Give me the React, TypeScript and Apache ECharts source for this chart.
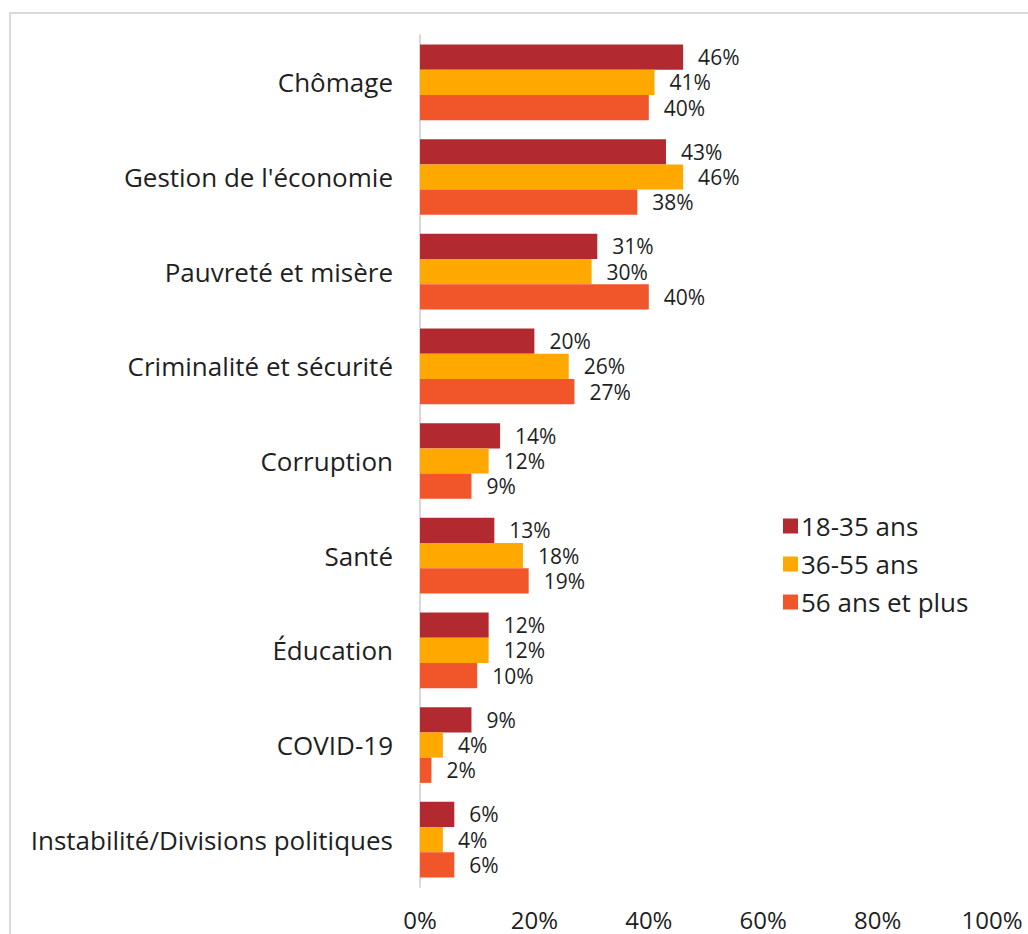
import React, { useEffect, useRef } from "react";
import * as echarts from "echarts";

const categories = [
  "Chômage",
  "Gestion de l'économie",
  "Pauvreté et misère",
  "Criminalité et sécurité",
  "Corruption",
  "Santé",
  "Éducation",
  "COVID-19",
  "Instabilité/Divisions politiques",
];
const seriesNames = ["18-35 ans", "36-55 ans", "56 ans et plus"];
const young = [46, 43, 31, 20, 14, 13, 12, 9, 6];
const middle = [41, 46, 30, 26, 12, 18, 12, 4, 4];
const older = [40, 38, 40, 27, 9, 19, 10, 2, 6];
const colors = ["#B22A2F", "#FFA800", "#F1562B"];
const xTicks = [0, 20, 40, 60, 80, 100];

const FONT = "'Open Sans', sans-serif";
const TXT = "#1f1f1f";

export default function App() {
  const ref = useRef<HTMLDivElement>(null);
  useEffect(() => {
    if (!ref.current) return;
    const chart = echarts.init(ref.current, null, { renderer: "svg" });
    const data = [young, middle, older];
    chart.setOption({
      animation: false,
      textStyle: { fontFamily: FONT },
      graphic: [
        {
          type: "rect",
          shape: { x: 10, y: 13, width: 1100, height: 1000 },
          style: { fill: "none", stroke: "#d9d9d9", lineWidth: 2 },
          silent: true,
        },
      ],
      grid: { left: 420, right: 36, top: 35, bottom: 47, containLabel: false },
      legend: {
        orient: "vertical",
        left: 778,
        top: 508,
        itemWidth: 15,
        itemHeight: 15,
        itemGap: 12,
        icon: "rect",
        data: seriesNames,
        textStyle: { fontSize: 26, lineHeight: 25, color: TXT, fontFamily: FONT, padding: [0, 0, 0, -2] },
      },
      xAxis: {
        type: "value",
        min: xTicks[0],
        max: xTicks[xTicks.length - 1],
        interval: 20,
        axisLine: { show: false },
        axisTick: { show: false },
        splitLine: { show: false },
        axisLabel: {
          formatter: (v: number) => `${v}%`,
          fontSize: 24,
          color: TXT,
          margin: 20,
          fontFamily: FONT,
        },
      },
      yAxis: {
        type: "category",
        data: categories,
        inverse: true,
        axisLine: { show: true, lineStyle: { color: "#d9d9d9", width: 2 } },
        axisTick: { show: false },
        axisLabel: { fontSize: 26, color: TXT, margin: 27, fontFamily: FONT },
      },
      series: seriesNames.map((name, i) => ({
        name,
        type: "bar",
        data: data[i],
        barGap: "0%",
        barCategoryGap: "20%",
        itemStyle: { color: colors[i] },
        label: {
          show: true,
          position: "right",
          distance: 15,
          formatter: "{c}%",
          fontSize: 21,
          lineHeight: 21,
          color: TXT,
          fontFamily: FONT,
        },
      })),
    });
    return () => chart.dispose();
  }, []);
  return (
    <div
      ref={ref}
      style={{ position: "fixed", left: 0, top: 0, width: 1028, height: 934, background: "#fff" }}
    />
  );
}
